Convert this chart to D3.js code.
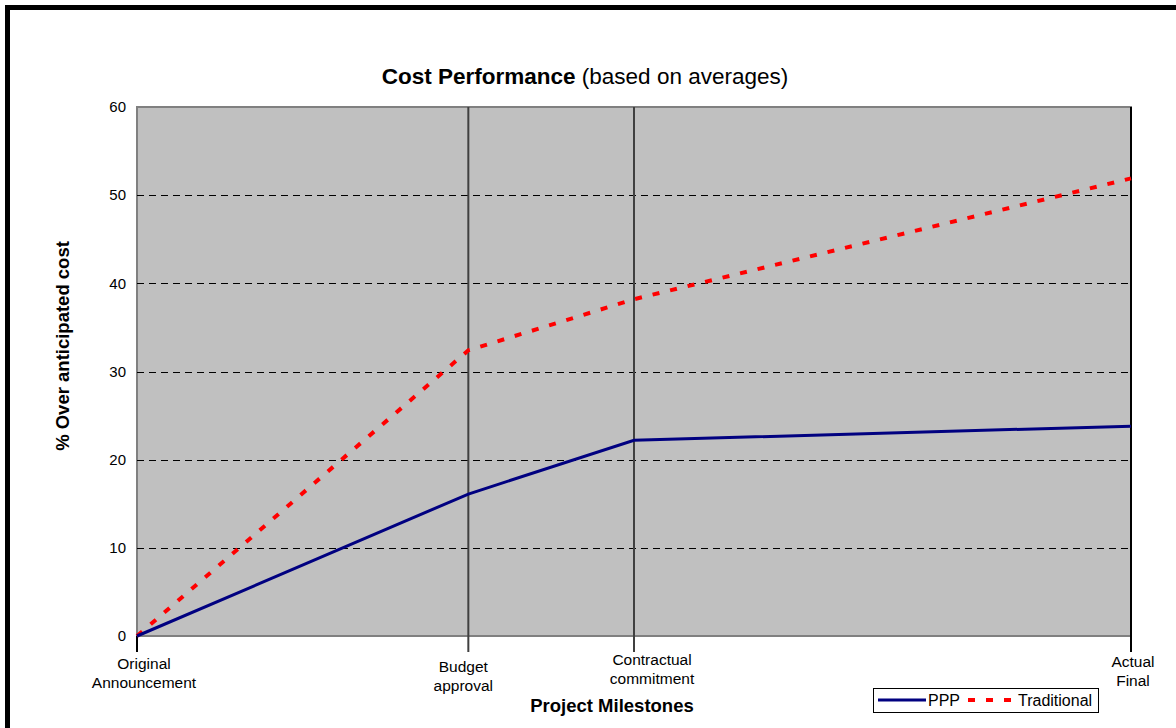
<!DOCTYPE html>
<html>
<head>
<meta charset="utf-8">
<script src="https://cdn.jsdelivr.net/npm/d3@7"></script>
<style>
  html, body { margin: 0; padding: 0; background: #fff; }
  svg { display: block; font-family: Arial, "Liberation Sans", sans-serif; }
</style>
</head>
<body>
<svg id="chart" width="1176" height="728"></svg>
<script>
// ---- data ----
const milestones = ["Original\nAnnouncement", "Budget\napproval", "Contractual\ncommitment", "Actual\nFinal"];
const milestonePos = [0, 2, 3, 6];
const pppValues = [0, 16.1, 22.2, 23.8];
const traditionalValues = [0, 32.4, 38.2, 51.9];
const yTicks = [0, 10, 20, 30, 40, 50, 60];
const seriesNames = ["PPP", "Traditional"];

// ---- layout ----
const svg = d3.select("#chart");
const L = 137, R = 1131, T = 107, B = 636;
const x = d3.scaleLinear().domain([0, 6]).range([L, R]);
const y = d3.scaleLinear().domain([0, 60]).range([B, T]);

// outer thick frame (extends off right/bottom)
svg.append("rect").attr("x", 7.5).attr("y", 7.5).attr("width", 1200).attr("height", 800)
  .attr("fill", "none").attr("stroke", "#000").attr("stroke-width", 5);

// plot area
svg.append("rect").attr("x", L).attr("y", T).attr("width", R - L).attr("height", B - T)
  .attr("fill", "#C0C0C0").attr("stroke", "#808080").attr("stroke-width", 2);

// gridlines
svg.append("g").selectAll("line").data(yTicks.filter(d => d > 0 && d < 60)).join("line")
  .attr("x1", L).attr("x2", R).attr("y1", d => Math.round(y(d)) + 0.5).attr("y2", d => Math.round(y(d)) + 0.5)
  .attr("stroke", "#000").attr("stroke-width", 1).attr("stroke-dasharray", "7,5");

// y tick labels
const yAxis = d3.axisLeft(y).tickValues(yTicks).tickSize(0).tickPadding(11);
const ya = svg.append("g").attr("transform", `translate(${L},0)`).call(yAxis);
ya.select(".domain").remove();
ya.selectAll("text").attr("font-size", 15).attr("fill", "#000")
  .attr("font-family", "Arial, 'Liberation Sans', sans-serif");

// vertical milestone lines
svg.append("g").selectAll("line").data(milestonePos).join("line")
  .attr("x1", d => x(d)).attr("x2", d => x(d))
  .attr("y1", (d, i) => i === 0 ? B : T).attr("y2", 652)
  .attr("stroke", (d, i) => (i === 0 || i === milestonePos.length - 1) ? "#000" : "#404040")
  .attr("stroke-width", 2);

// x labels
const labelDx = [7, -5, 18, 2];
const labelY = [669, 672, 665, 667];
const xl = svg.append("g").selectAll("text").data(milestones).join("text")
  .attr("text-anchor", "middle").attr("font-size", 15.5).attr("fill", "#000")
  .attr("transform", (d, i) => `translate(${x(milestonePos[i]) + labelDx[i]},${labelY[i]})`);
xl.selectAll("tspan").data(d => d.split("\n")).join("tspan")
  .attr("x", 0).attr("dy", (d, i) => i === 0 ? 0 : 19).text(d => d);

// lines
const line = d3.line().x((d, i) => x(milestonePos[i])).y(d => y(d));
svg.append("path").datum(traditionalValues).attr("d", line)
  .attr("fill", "none").attr("stroke", "#FF0000").attr("stroke-width", 4)
  .attr("stroke-dasharray", "7,11");
svg.append("path").datum(pppValues).attr("d", line)
  .attr("fill", "none").attr("stroke", "#000080").attr("stroke-width", 3);

// title
const title = svg.append("text").attr("x", 585).attr("y", 84).attr("text-anchor", "middle")
  .attr("font-size", 22.5).attr("fill", "#000");
title.append("tspan").attr("font-weight", "bold").text("Cost Performance");
title.append("tspan").text(" (based on averages)");

// axis titles
svg.append("text").attr("x", 612).attr("y", 712).attr("text-anchor", "middle")
  .attr("font-size", 18.5).attr("font-weight", "bold").text("Project Milestones");
svg.append("text").attr("transform", "translate(69,346) rotate(-90)").attr("text-anchor", "middle")
  .attr("font-size", 18.5).attr("font-weight", "bold").text("% Over anticipated cost");

// legend
const lg = svg.append("g");
lg.append("rect").attr("x", 873.5).attr("y", 688.5).attr("width", 225).attr("height", 24)
  .attr("fill", "#fff").attr("stroke", "#000").attr("stroke-width", 1);
lg.append("line").attr("x1", 878).attr("x2", 926).attr("y1", 700).attr("y2", 700)
  .attr("stroke", "#000080").attr("stroke-width", 3);
lg.append("text").attr("x", 928).attr("y", 706).attr("font-size", 16).text(seriesNames[0]);
lg.append("line").attr("x1", 968).attr("x2", 1015).attr("y1", 700).attr("y2", 700)
  .attr("stroke", "#FF0000").attr("stroke-width", 4).attr("stroke-dasharray", "7,11");
lg.append("text").attr("x", 1018).attr("y", 706).attr("font-size", 16).text(seriesNames[1]);
</script>
</body>
</html>
